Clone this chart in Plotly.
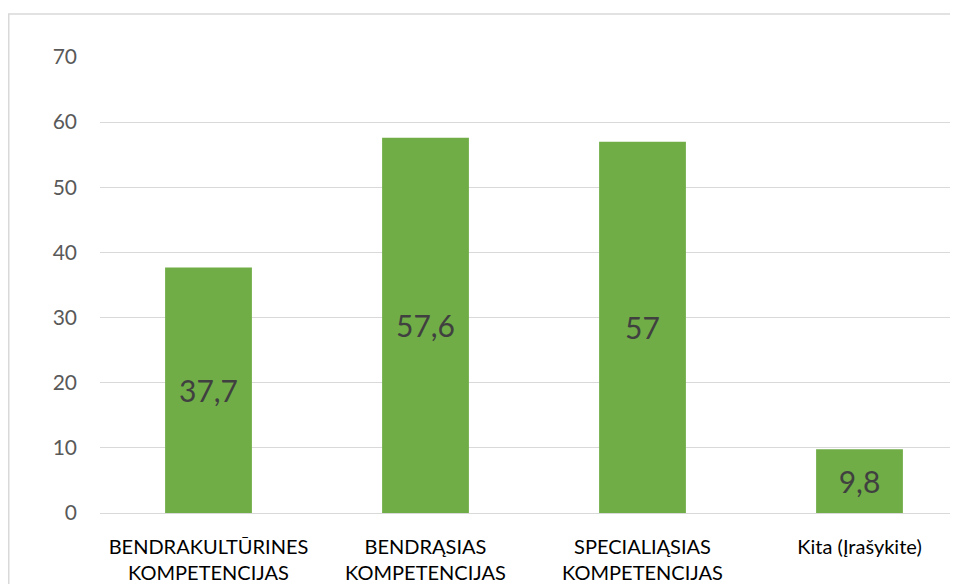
import plotly.graph_objects as go

categories = ["BENDRAKULTŪRINES<br>KOMPETENCIJAS", "BENDRĄSIAS<br>KOMPETENCIJAS",
              "SPECIALIĄSIAS<br>KOMPETENCIJAS", "Kita (Įrašykite)"]
values = [37.7, 57.6, 57, 9.8]
labels = ["37,7", "57,6", "57", "9,8"]
y_ticks = [0, 10, 20, 30, 40, 50, 60, 70]

FONT = "Lato"
W, H = 950, 576
L, R, T, B = 92, 0, 49, 71
pw, ph = W - L - R, H - T - B

fig = go.Figure(go.Bar(
    x=list(range(len(categories))), y=values, text=labels,
    textposition="inside", insidetextanchor="middle",
    textfont=dict(family=FONT, size=30, color="#404040"),
    marker=dict(color="#70ad47", line=dict(width=0)),
    width=0.4, cliponaxis=False,
))

def px_x(p):
    return (p - L) / pw

def px_y(p):
    return (H - B - p) / ph

fig.update_layout(
    width=W, height=H,
    margin=dict(l=L, r=R, t=T, b=B, autoexpand=False),
    paper_bgcolor="white", plot_bgcolor="white",
    showlegend=False,
    font=dict(family=FONT, size=20, color="#595959"),
    xaxis=dict(
        tickmode="array", tickvals=list(range(len(categories))), ticktext=categories,
        range=[-0.5, -0.5 + pw / 217.0],
        showgrid=False, zeroline=False, showline=False,
        tickfont=dict(family=FONT, size=20, color="#000000"),
        ticks="", automargin=False, tickangle=0, ticklabelstandoff=20,
    ),
    yaxis=dict(
        range=[0, 70], tickvals=y_ticks,
        showgrid=True, gridcolor="#d9d9d9", gridwidth=1.3,
        zeroline=True, zerolinecolor="#d9d9d9", zerolinewidth=1.3,
        showline=False,
        tickfont=dict(family=FONT, size=21, color="#595959"),
        ticks="", ticklabelstandoff=22, automargin=False,
    ),
    shapes=[
        dict(type="line", xref="paper", yref="paper",
             x0=px_x(0.75), x1=px_x(0.75), y0=px_y(6), y1=px_y(600),
             line=dict(color="#d9d9d9", width=1.5)),
        dict(type="line", xref="paper", yref="paper",
             x0=px_x(0), x1=px_x(970), y0=px_y(6), y1=px_y(6),
             line=dict(color="#d9d9d9", width=1.5)),
    ],
)

fig.write_html("out.html")
